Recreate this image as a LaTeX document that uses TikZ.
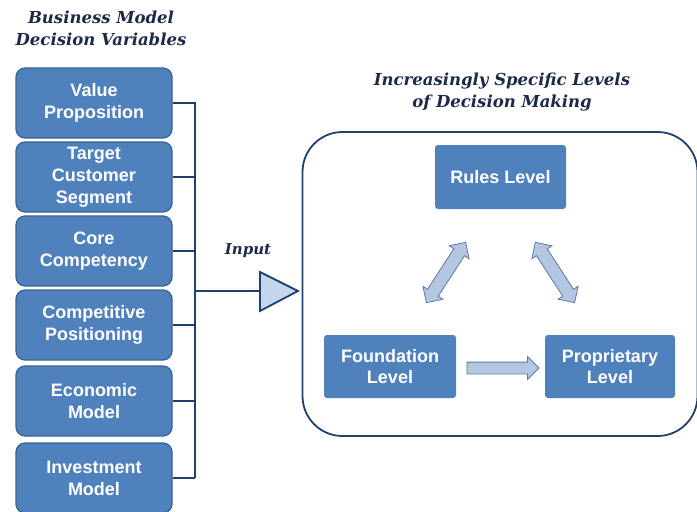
\documentclass[tikz,border=0pt]{standalone}
\usepackage{fontspec}
\setmainfont{Liberation Serif}
\setsansfont{Liberation Sans}
\newfontfamily\titlefont{DejaVu Serif}
\usetikzlibrary{shapes.arrows}
\definecolor{boxblue}{HTML}{4F81BD}
\definecolor{boxedge}{HTML}{3A6395}
\definecolor{linenavy}{HTML}{1F3F6F}
\definecolor{titlenavy}{HTML}{1C2A48}
\definecolor{arrowfill}{HTML}{B4C6E0}
\definecolor{arrowedge}{HTML}{5A78A8}
\definecolor{trifill}{HTML}{C6D6EC}
\begin{document}
\begin{tikzpicture}[x=1pt,y=-1pt,
  varbox/.style={draw=boxedge, line width=1.3pt, fill=boxblue, rounded corners=9pt,
    minimum width=156pt, minimum height=70pt, inner sep=0pt, text=white, align=center,
    font=\sffamily\bfseries\fontsize{18}{22}\selectfont},
  levelbox/.style={fill=boxblue, rounded corners=3pt, minimum height=63pt, inner sep=0pt,
    text=white, align=center, font=\sffamily\bfseries\fontsize{18}{21.5}\selectfont},
  titletext/.style={text=titlenavy, align=center, font=\titlefont\bfseries\itshape\fontsize{16.5}{22}\selectfont},
  bus/.style={draw=linenavy, line width=2pt},
  fatdouble/.style={double arrow, draw=arrowedge, fill=arrowfill, line width=0.8pt,
    inner xsep=0pt, inner ysep=6pt, double arrow head extend=5.5pt, minimum height=72pt},
  fatsingle/.style={single arrow, draw=arrowedge, fill=arrowfill, line width=0.8pt,
    inner xsep=0pt, inner ysep=5.5pt, single arrow head extend=5.5pt, minimum height=72pt},
  tri/.style={draw=linenavy, fill=trifill, line width=1.8pt, line join=miter}
]
\useasboundingbox (0,0) rectangle (697,512);

% titles
\node[titletext] (t1) at (101,28) {Business Model\\Decision Variables};
\node[titletext] (t2) at (502,92) {Increasingly Specific Levels\\of Decision Making};

% decision variable boxes
\node[varbox] (v1) at (94,103) {Value\\Proposition};
\node[varbox] (v2) at (94,177) {Target\\Customer\\Segment};
\node[varbox] (v3) at (94,251) {Core\\Competency};
\node[varbox] (v4) at (94,325) {Competitive\\Positioning};
\node[varbox] (v5) at (94,401) {Economic\\Model};
\node[varbox] (v6) at (94,478) {Investment\\Model};

% bus
\coordinate (bb) at (195,478);
\draw[bus] (v1.east) -| (bb);
\draw[bus] (v2.east) -- (v2.east -| bb);
\draw[bus] (v3.east) -- (v3.east -| bb);
\draw[bus] (v4.east) -- (v4.east -| bb);
\draw[bus] (v5.east) -- (v5.east -| bb);
\draw[bus] (v6.east) -- (bb);

% input
\coordinate (inp) at (194,291);
\coordinate (trib) at (260,291);
\node[text=titlenavy, font=\titlefont\bfseries\itshape\fontsize{15}{18}\selectfont] (inlabel) at (248,251) {Input};
\draw[bus] (inp) -- (trib);
\draw[tri] (260,272) -- (298,291) -- (260,311) -- cycle;

% frame
\node[draw=linenavy, line width=1.8pt, rounded corners=40pt, minimum width=395pt,
  minimum height=304pt, inner sep=0pt] (frame) at (500,284) {};

% levels
\node[levelbox, minimum width=131pt, minimum height=64pt] (rules) at (500.5,177) {Rules Level};
\node[levelbox, minimum width=132pt] (found) at (390,366.5) {Foundation\\Level};
\node[levelbox, minimum width=130pt] (prop) at (610,366.5) {Proprietary\\Level};

% arrows
\node[fatdouble, rotate=57] (a1) at (446,272.5) {};
\node[fatdouble, rotate=-57] (a2) at (555,272.5) {};
\node[fatsingle] (a3) at (500,368) {};
\end{tikzpicture}
\end{document}
